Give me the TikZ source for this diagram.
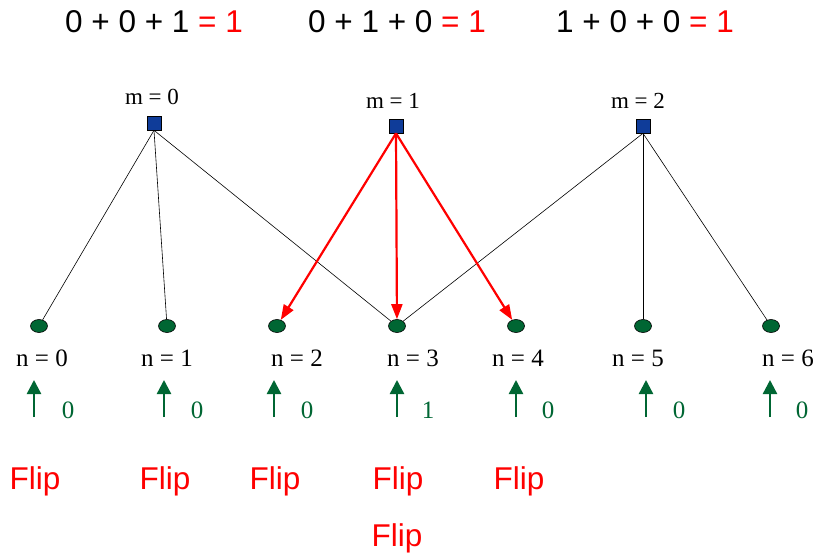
\documentclass[tikz,border=0pt]{standalone}
\usepackage{fontspec}
\setmainfont{Liberation Serif}
\newfontfamily\arial{Liberation Sans}
\usetikzlibrary{arrows.meta,shapes.geometric}
\definecolor{sqblue}{HTML}{0F3C99}
\definecolor{dgreen}{HTML}{006633}
\definecolor{fred}{HTML}{FF0000}
\tikzset{
  eqtext/.style={font=\arial\fontsize{31.5}{33}\selectfont, inner sep=0pt},
  fliptext/.style={font=\arial\fontsize{31.5}{33}\selectfont, text=fred, inner sep=0pt},
  mlabel/.style={font=\fontsize{23}{25}\selectfont, inner sep=0pt},
  nlabel/.style={font=\fontsize{25}{27}\selectfont, inner sep=0pt},
  bitlabel/.style={font=\fontsize{25}{27}\selectfont, text=dgreen, inner sep=0pt},
  msq/.style={draw=black, line width=0.6pt, fill=sqblue, minimum width=14pt, minimum height=14pt, inner sep=0pt},
  ncirc/.style={draw=black, line width=0.6pt, fill=dgreen, ellipse, minimum width=17pt, minimum height=13pt, inner sep=0pt},
  blk/.style={draw=black, line width=0.6pt},
  redarr/.style={draw=fred, line width=2.2pt, -{Triangle[length=15pt,width=11pt]}},
  grarr/.style={draw=dgreen, line width=2.4pt, -{Triangle[length=14pt,width=14pt]}},
}
\begin{document}
\begin{tikzpicture}[x=1pt,y=-1pt]
\useasboundingbox (0,0) rectangle (819,554);
% equations
\node[eqtext] (e1) at (154,22) {0 + 0 + 1 \textcolor{fred}{= 1}};
\node[eqtext] (e2) at (397,22) {0 + 1 + 0 \textcolor{fred}{= 1}};
\node[eqtext] (e3) at (645,22) {1 + 0 + 0 \textcolor{fred}{= 1}};
% m labels and squares
\node[mlabel] (ml0) at (152,97) {m = 0};
\node[mlabel] (ml1) at (393,101) {m = 1};
\node[mlabel] (ml2) at (638,101) {m = 2};
\node[msq] (m0) at (154,123) {};
\node[msq] (m1) at (396,126) {};
\node[msq] (m2) at (643,126) {};
% circles
\foreach \i/\x in {0/39,1/167,2/277,3/397,4/516,5/643,6/771}{
  \node[ncirc] (c\i) at (\x,326) {};
}
% edges
\draw[blk] (m0.south) -- (c0);
\draw[blk] (m0.south) -- (c1);
\draw[blk] (m0.south) -- (c3);
\draw[blk] (m2.south) -- (c3);
\draw[blk] (m2.south) -- (c5);
\draw[blk] (m2.south) -- (c6);
\draw[redarr] (m1.south) -- (c2);
\draw[redarr] (m1.south) -- (c3);
\draw[redarr] (m1.south) -- (c4);
% n labels
\foreach \i/\x in {0/42,1/167,2/297,3/413,4/518,5/638,6/788}{
  \node[nlabel] (nl\i) at (\x,358) {n = \i};
}
% green arrows and bits
\foreach \i/\x/\b/\bx in {0/34/0/68,1/164/0/197,2/274/0/307,3/397/1/428,4/516/0/548,5/646/0/679,6/770/0/802}{
  \coordinate (ab\i) at (\x,417);
  \coordinate (at\i) at (\x,380);
  \draw[grarr] (ab\i) -- (at\i);
  \node[bitlabel] (b\i) at (\bx,410) {\b};
}
% flips
\node[fliptext] (f0) at (35,481) {Flip};
\node[fliptext] (f1) at (165,481) {Flip};
\node[fliptext] (f2) at (275,481) {Flip};
\node[fliptext] (f3) at (398,481) {Flip};
\node[fliptext] (f4) at (519,481) {Flip};
\node[fliptext] (f5) at (397,538) {Flip};
\end{tikzpicture}
\end{document}
